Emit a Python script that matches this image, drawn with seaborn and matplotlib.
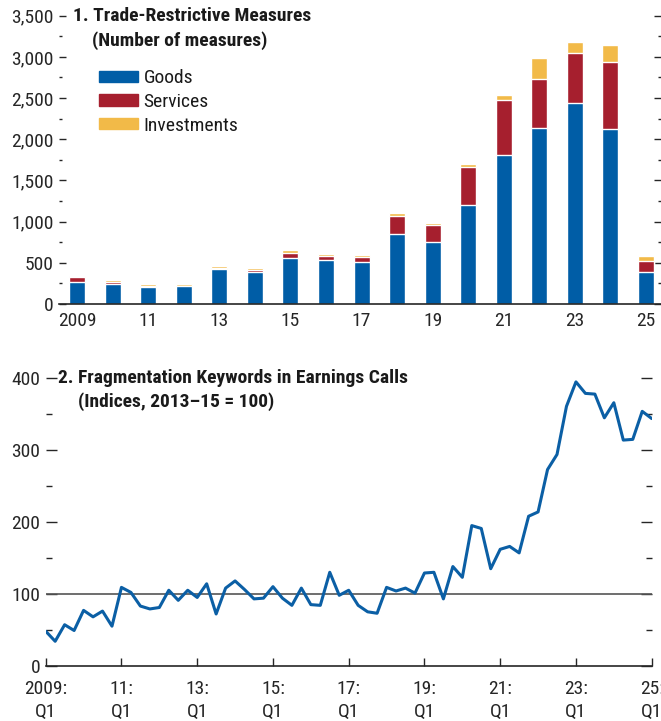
import numpy as np
import pandas as pd
import seaborn as sns
import matplotlib.pyplot as plt
import matplotlib.font_manager as fm
from matplotlib.patches import Patch
from matplotlib.ticker import MultipleLocator, FuncFormatter

# Panel 1: trade-restrictive measures (number of measures)
years = list(range(2009, 2026))
goods = [268, 244, 208, 220, 424, 388, 564, 532, 508, 852, 748, 1204, 1812, 2140, 2436, 2124, 388]
services = [60, 20, 12, 4, 16, 28, 52, 56, 68, 216, 212, 464, 660, 596, 612, 816, 128]
investments = [12, 24, 20, 16, 20, 20, 36, 24, 24, 36, 24, 36, 60, 252, 132, 204, 72]

# Panel 2: fragmentation keywords in earnings calls, quarterly 2009:Q1-2025:Q1
quarters = [f"{y}Q{q}" for y in range(2009, 2026) for q in range(1, 5)][:65]
index_vals = [48, 34, 57, 49, 77, 68, 76, 55, 109, 102, 83, 79, 81, 105, 91, 105,
              95, 114, 72, 108, 118, 106, 93, 94, 110, 94, 84, 108, 85, 84, 130, 98,
              105, 84, 75, 73, 109, 104, 108, 101, 129, 130, 93, 138, 123, 195, 191, 135,
              162, 166, 157, 208, 214, 273, 294, 361, 395, 379, 378, 345, 366, 314, 315, 354, 344]

BLUE = "#005DA6"
RED = "#A61F2E"
YELLOW = "#F2BA48"

sns.set_style("ticks")
installed = {f.name for f in fm.fontManager.ttflist}
family = ["DejaVu Sans"]
stretch = "condensed"
for cand in ["Liberation Sans Narrow", "Roboto Condensed", "Open Sans Condensed", "Noto Sans Condensed"]:
    if cand in installed:
        family = [cand, "DejaVu Sans"]
        stretch = "normal"
        break
plt.rcParams["font.family"] = family
plt.rcParams["font.stretch"] = stretch
plt.rcParams["font.size"] = 14
plt.rcParams["text.color"] = "#1a1a1a"

W, H = 661, 721
fig = plt.figure(figsize=(W / 100, H / 100), dpi=100)

#%% top panel
ax1 = fig.add_axes([59 / W, 1 - 304 / H, (W - 59) / W, (304 - 15.7) / H])
df1 = pd.DataFrame({"year": [str(y) for y in years], "goods": goods,
                    "services": services, "investments": investments})
df1["gs"] = df1["goods"] + df1["services"]
df1["total"] = df1["gs"] + df1["investments"]

for col, c in [("total", YELLOW), ("gs", RED), ("goods", BLUE)]:
    sns.barplot(data=df1, x="year", y=col, color=c, width=0.45,
                saturation=1, ax=ax1, zorder=2)

ax1.set_xlim(-0.506, 16.42)
ax1.set_ylim(0, 3500)
ax1.set_xlabel("")
ax1.set_ylabel("")
ax1.set_xticks(range(0, 17, 2))
ax1.set_xticklabels(["2009" if y == 2009 else f"{y % 100:02d}" for y in years[::2]])
ax1.yaxis.set_major_locator(MultipleLocator(500))
ax1.yaxis.set_minor_locator(MultipleLocator(250))
ax1.yaxis.set_major_formatter(FuncFormatter(lambda v, p: f"{int(v):,}"))
ax1.tick_params(axis="x", length=0, pad=6, labelsize=14)
ax1.tick_params(axis="y", which="both", direction="in", left=True, right=True,
                width=1, labelsize=14, pad=4)
ax1.tick_params(axis="y", which="major", length=5)
ax1.tick_params(axis="y", which="minor", length=2.5)
for s in ["top", "left", "right"]:
    ax1.spines[s].set_visible(False)
ax1.spines["bottom"].set_linewidth(1.2)

handles = [Patch(color=BLUE, label="Goods"), Patch(color=RED, label="Services"),
           Patch(color=YELLOW, label="Investments")]
ax1.legend(handles=handles, loc="upper left", bbox_to_anchor=(0.066, 0.815),
           frameon=False, fontsize=14, handlelength=2.0, handleheight=0.5,
           handletextpad=0.3, labelspacing=0.3, borderpad=0, borderaxespad=0)

fig.text(73 / W, 1 - 16 / H, "1. Trade-Restrictive Measures", fontsize=14,
         fontweight="bold", va="center", ha="left")
fig.text(92 / W, 1 - 41 / H, "(Number of measures)", fontsize=14,
         fontweight="bold", va="center", ha="left")

#%% bottom panel
ax2 = fig.add_axes([45.7 / W, 1 - 665.7 / H, (651.7 - 45.7) / W, (665.7 - 378.3) / H])
df2 = pd.DataFrame({"quarter": quarters, "value": index_vals})
df2["t"] = df2["quarter"].str[:4].astype(int) + (df2["quarter"].str[-1].astype(int) - 1) / 4

ax2.axhline(100, color="#555555", lw=1.2, zorder=1)
sns.lineplot(data=df2, x="t", y="value", color="#0B5FA5", lw=2.2, ax=ax2, zorder=3)

ax2.set_xlim(2009, 2025)
ax2.set_ylim(0, 400)
ax2.set_xlabel("")
ax2.set_ylabel("")
tick_years = list(range(2009, 2026, 2))
ax2.set_xticks(tick_years)
ax2.set_xticklabels([("2009" if y == 2009 else f"{y % 100:02d}") + ":\nQ1" for y in tick_years],
                    linespacing=1.4)
ax2.yaxis.set_major_locator(MultipleLocator(100))
ax2.yaxis.set_minor_locator(MultipleLocator(50))
ax2.tick_params(axis="x", direction="in", length=6, width=1, pad=10, labelsize=14)
ax2.tick_params(axis="y", which="both", direction="in", left=True, right=True,
                width=1, labelsize=14, pad=4)
ax2.tick_params(axis="y", which="major", length=8)
ax2.tick_params(axis="y", which="minor", length=4)
for s in ["top", "left", "right"]:
    ax2.spines[s].set_visible(False)
ax2.spines["bottom"].set_linewidth(1.2)

fig.text(58 / W, 1 - 378 / H, "2. Fragmentation Keywords in Earnings Calls", fontsize=14,
         fontweight="bold", va="center", ha="left")
fig.text(78 / W, 1 - 402 / H, "(Indices, 2013\u201315 = 100)", fontsize=14,
         fontweight="bold", va="center", ha="left")

fig.savefig("out.png", dpi=100)
